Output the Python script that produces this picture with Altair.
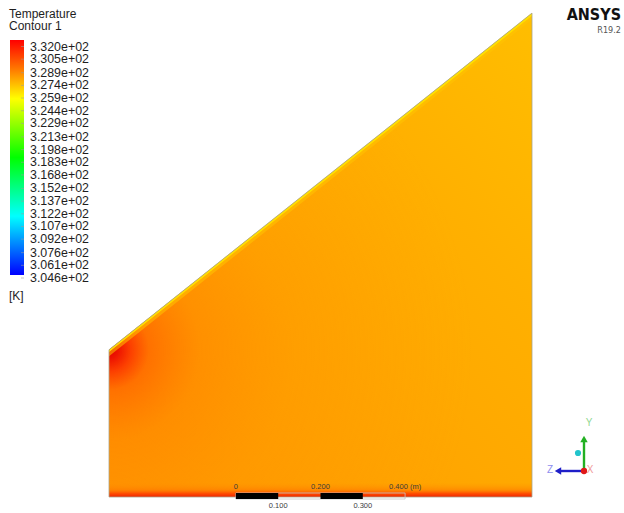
import altair as alt
import pandas as pd

# ---------------------------------------------------------------
# Plate cross-section (metres): vertical left edge, sloped top edge,
# vertical right edge, flat base.
edge_x = [0.0, 1.0]
edge_top = [0.348, 1.144]

# Colour legend
legend_title = ["Temperature", "Contour 1"]
legend_labels = [
    "3.320e+02", "3.305e+02", "3.289e+02", "3.274e+02", "3.259e+02",
    "3.244e+02", "3.229e+02", "3.213e+02", "3.198e+02", "3.183e+02",
    "3.168e+02", "3.152e+02", "3.137e+02", "3.122e+02", "3.107e+02",
    "3.092e+02", "3.076e+02", "3.061e+02", "3.046e+02",
]
legend_unit = "[K]"
legend_colors = ["#FF0000", "#FF7A00", "#FFFF00", "#00FF00", "#00FFFF", "#0000FF"]
legend_stops = [0.0, 0.125, 0.25, 0.5, 0.75, 1.0]

# Scale bar (metres)
bar_start = 0.3
bar_solid = [(0.0, 0.1), (0.2, 0.3)]
bar_top_ticks = [0.0, 0.2]
bar_top_text = ["0", "0.200"]
bar_end_tick = 0.4
bar_end_text = "0.400  (m)"
bar_bottom_ticks = [0.1, 0.3]
bar_bottom_text = ["0.100", "0.300"]

# ---------------------------------------------------------------
W, H = 624, 513
PX_PER_M = 423.0
X0_PX, Y0_PX = 109.0, 497.0          # where (0, 0) of the plate sits
FONT = "Liberation Sans"

xs = alt.Scale(domain=[-X0_PX / PX_PER_M, (W - X0_PX) / PX_PER_M], nice=False, zero=False)
ys = alt.Scale(domain=[(Y0_PX - H) / PX_PER_M, Y0_PX / PX_PER_M], nice=False, zero=False)

# temperature axis used by the legend labels
t_vals = [float(s) for s in legend_labels]
t_max, t_min = max(t_vals), min(t_vals)
LBL_TOP, LBL_BOT = 46.5, 278.0
k = (LBL_BOT - LBL_TOP) / (t_max - t_min)
ts = alt.Scale(domain=[t_max - (H - LBL_TOP) / k, t_max + LBL_TOP / k], nice=False, zero=False)


def X(f):
    return alt.X(f, type="quantitative", scale=xs, axis=None)


def Y(f):
    return alt.Y(f, type="quantitative", scale=ys, axis=None)


plate = pd.DataFrame({"x": edge_x, "top": edge_top, "base": [0.0, 0.0]})
plate["b1"] = plate["top"] - 0.006
plate["b2"] = plate["top"] - 0.015
strip = pd.DataFrame({"x": edge_x, "top": [0.034, 0.034], "base": [0.0, 0.0]})
outline = pd.DataFrame({
    "x": [0.0, 0.0, edge_x[1], edge_x[1], 0.0],
    "y": [0.0, edge_top[0], edge_top[1], 0.0, 0.0],
    "i": [0, 1, 2, 3, 4],
})


def stops(pairs):
    return [alt.GradientStop(color=c, offset=o) for o, c in pairs]


# main temperature field: warm orange, lighter towards the apex
field = alt.Chart(plate).mark_area(
    fill=alt.LinearGradient(
        gradient="linear", x1=1, y1=0, x2=0, y2=1,
        stops=stops([(0.0, "#FFBE00"), (0.3, "#FFB000"), (0.6, "#FFA500"), (1.0, "#FF9800")]),
    )
).encode(x=X("x"), y=Y("top"), y2="base")

# hot corner where the sloped edge meets the left wall
hot = alt.Chart(plate).mark_area(
    fill=alt.RadialGradient(
        gradient="radial", x1=0.063, y1=0.696, x2=0.063, y2=0.696, r1=0, r2=0.75,
        stops=stops([
            (0.0, "rgba(225,0,0,1)"),
            (0.025, "rgba(238,20,0,1)"),
            (0.06, "rgba(252,60,0,0.97)"),
            (0.11, "rgba(255,105,0,0.85)"),
            (0.25, "rgba(255,130,0,0.55)"),
            (0.5, "rgba(255,142,0,0.28)"),
            (1.0, "rgba(255,150,0,0)"),
        ]),
    )
).encode(x=X("x"), y=Y("top"), y2="base")

# hotter layer along the base
base_strip = alt.Chart(strip).mark_area(
    fill=alt.LinearGradient(
        gradient="linear", x1=0, y1=0, x2=0, y2=1,
        stops=stops([
            (0.0, "rgba(255,140,0,0)"),
            (0.5, "rgba(255,110,0,0.45)"),
            (0.75, "rgba(255,70,0,0.9)"),
            (1.0, "rgba(238,35,0,1)"),
        ]),
    )
).encode(x=X("x"), y=Y("top"), y2="base")

# cooler film along the sloped edge
edge_in = alt.Chart(plate).mark_area(fill="#FFC400", opacity=0.55).encode(
    x=X("x"), y=Y("b1"), y2="b2")
edge_out = alt.Chart(plate).mark_area(fill="#FFE000").encode(
    x=X("x"), y=Y("top"), y2="b1")

border = alt.Chart(outline).mark_line(color="#A8A48C", strokeWidth=0.8).encode(
    x=X("x"), y=Y("y"), order="i:Q")

# scale bar
bar_df = pd.DataFrame({"a": [s[0] + bar_start for s in bar_solid],
                       "b": [s[1] + bar_start for s in bar_solid]})
bar_frame_df = pd.DataFrame({"a": [bar_start], "b": [bar_start + bar_end_tick]})
bar_frame = alt.Chart(bar_frame_df).mark_rect(
    fill="#FFFFFF", fillOpacity=0.0, stroke="#C4C4C4", strokeWidth=0.8
).encode(x=X("a"), x2="b", y=alt.value(493), y2=alt.value(499))
bar_black = alt.Chart(bar_df).mark_rect(color="#000000").encode(
    x=X("a"), x2="b", y=alt.value(493), y2=alt.value(499))

top_df = pd.DataFrame({"x": [t + bar_start for t in bar_top_ticks], "t": bar_top_text})
bot_df = pd.DataFrame({"x": [t + bar_start for t in bar_bottom_ticks], "t": bar_bottom_text})
end_df = pd.DataFrame({"x": [bar_end_tick + bar_start], "t": [bar_end_text]})
txt_style = dict(font=FONT, fontSize=7.5, color="#3C3C3C", baseline="middle")
bar_top_lbl = alt.Chart(top_df).mark_text(align="center", **txt_style).encode(
    x=X("x"), y=alt.value(486.5), text="t:N")
bar_end_lbl = alt.Chart(end_df).mark_text(align="left", dx=-16, **txt_style).encode(
    x=X("x"), y=alt.value(486.5), text="t:N")
bar_bot_lbl = alt.Chart(bot_df).mark_text(align="center", **txt_style).encode(
    x=X("x"), y=alt.value(505.5), text="t:N")

one = pd.DataFrame({"o": [0]})

# orientation triad
tri_y = alt.Chart(one).mark_rule(color="#22B022", strokeWidth=2.4).encode(
    x=alt.value(584), y=alt.value(471), y2=alt.value(441))
tri_y_head = alt.Chart(one).mark_point(shape="triangle-up", filled=True, color="#22B022",
                                       size=55, opacity=1).encode(
    x=alt.value(584), y=alt.value(439))
tri_z = alt.Chart(one).mark_rule(color="#1E1EC8", strokeWidth=2.4).encode(
    x=alt.value(584), x2=alt.value(560), y=alt.value(471))
tri_z_head = alt.Chart(one).mark_point(shape="triangle-left", filled=True, color="#1E1EC8",
                                       size=55, opacity=1).encode(
    x=alt.value(558), y=alt.value(471))
tri_o = alt.Chart(one).mark_point(shape="circle", filled=True, color="#E01818",
                                  size=40, opacity=1).encode(
    x=alt.value(584), y=alt.value(471))
tri_c = alt.Chart(one).mark_point(shape="circle", filled=True, color="#22C4CC",
                                  size=38, opacity=1).encode(
    x=alt.value(578), y=alt.value(453))
tri_lbl_style = dict(font=FONT, fontSize=10, baseline="middle", align="center")
tri_ly = alt.Chart(one).mark_text(text="Y", color="#92D892", **tri_lbl_style).encode(
    x=alt.value(589), y=alt.value(423))
tri_lz = alt.Chart(one).mark_text(text="Z", color="#8E8EEE", **tri_lbl_style).encode(
    x=alt.value(550), y=alt.value(470))
tri_lx = alt.Chart(one).mark_text(text="X", color="#F09A9A", **tri_lbl_style).encode(
    x=alt.value(590), y=alt.value(470))

# product badge
logo = alt.Chart(one).mark_text(text="ANSYS",
                                font="Liberation Sans Narrow, DejaVu Sans Condensed",
                                fontWeight="bold", fontSize=16, color="#111111", align="right",
                                baseline="alphabetic").encode(
    x=alt.value(621), y=alt.value(20))
rel = alt.Chart(one).mark_text(text="R19.2", font="DejaVu Sans Condensed", fontSize=9,
                               color="#555555", align="right", baseline="alphabetic").encode(
    x=alt.value(621), y=alt.value(33))

plate_layer = alt.layer(
    field, hot, base_strip, edge_in, edge_out, border,
    bar_frame, bar_black, bar_top_lbl, bar_end_lbl, bar_bot_lbl,
    tri_y, tri_z, tri_y_head, tri_z_head, tri_o, tri_c, tri_ly, tri_lz, tri_lx,
    logo, rel,
)

# ---------------- legend ----------------
colorbar = alt.Chart(one).mark_rect(
    fill=alt.LinearGradient(
        gradient="linear", x1=0, y1=0, x2=0, y2=1,
        stops=stops(list(zip(legend_stops, legend_colors))),
    )
).encode(x=alt.value(10), x2=alt.value(24), y=alt.value(40), y2=alt.value(275))

lab_df = pd.DataFrame({"T": t_vals, "label": legend_labels})
ticks = alt.Chart(lab_df).mark_rule(color="#9A9A9A", strokeWidth=0.7, opacity=0.8).encode(
    x=alt.value(21), x2=alt.value(24), y=alt.Y("T:Q", scale=ts, axis=None))
labels = alt.Chart(lab_df).mark_text(align="left", baseline="middle", font=FONT,
                                     fontSize=12.4, color="#1E1E1E").encode(
    x=alt.value(30), y=alt.Y("T:Q", scale=ts, axis=None), text="label:N")

title_style = dict(font=FONT, fontSize=12, color="#1E1E1E", align="left", baseline="alphabetic")
title1 = alt.Chart(one).mark_text(text=legend_title[0], **title_style).encode(
    x=alt.value(9), y=alt.value(17.5))
title2 = alt.Chart(one).mark_text(text=legend_title[1], **title_style).encode(
    x=alt.value(9), y=alt.value(30))
unit = alt.Chart(one).mark_text(text=legend_unit, **title_style).encode(
    x=alt.value(9), y=alt.value(300))

legend_layer = alt.layer(colorbar, ticks, labels, title1, title2, unit)

chart = (
    alt.layer(plate_layer, legend_layer)
    .resolve_scale(y="independent")
    .properties(width=W, height=H, padding=0, autosize=alt.AutoSizeParams(type="none"),
                background="#FFFFFF")
    .configure_view(stroke=None)
)

chart.save("out.html", embed_options={"renderer": "svg", "actions": False})
